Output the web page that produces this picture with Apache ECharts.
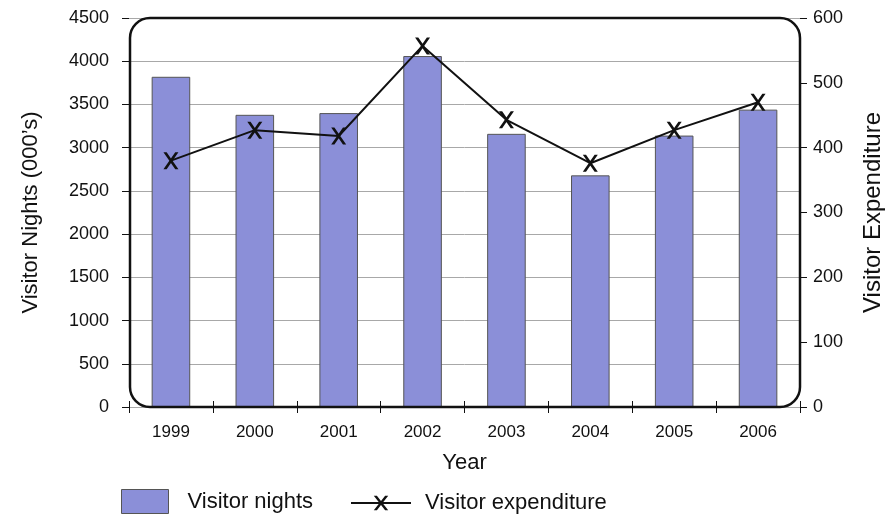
<!DOCTYPE html>
<html><head><meta charset="utf-8">
<script src="https://cdn.jsdelivr.net/npm/echarts@6/dist/echarts.min.js"></script>
<style>html,body{margin:0;padding:0;background:#fff}#c{width:887px;height:516px}</style>
</head><body><div id="c"></div>
<script>
const years = ['1999','2000','2001','2002','2003','2004','2005','2006'];
const visitorNights = [3820, 3380, 3400, 4060, 3160, 2680, 3140, 3440];
const visitorExpenditure = [380, 427, 418, 557, 443, 376, 427, 470];
const leftTicks = {min: 0, max: 4500, interval: 500};
const rightTicks = {min: 0, max: 600, interval: 100};

const G = {left: 129, right: 87, top: 18, bottom: 109};
const W = 887, H = 516;
const font = 'Liberation Sans, Arial, Helvetica, sans-serif';
const xPath = 'path://M0,0 L3,0 L14,16 L11,16 Z M11,0 L14,0 L3,16 L0,16 Z';
const plain = v => String(v);

const chart = echarts.init(document.getElementById('c'), null, {renderer: 'canvas'});
chart.setOption({
  animation: false,
  backgroundColor: '#fff',
  textStyle: {fontFamily: font, color: '#111'},
  grid: {left: G.left, right: G.right, top: G.top, bottom: G.bottom, containLabel: false, outerBoundsMode: 'none'},
  graphic: [{
    type: 'rect', z: 100, silent: true,
    shape: {x: G.left + 1, y: G.top, width: W - G.left - G.right - 1, height: H - G.top - G.bottom, r: 20},
    style: {fill: 'none', stroke: '#111', lineWidth: 2.5}
  }],
  legend: [{
    data: [{name: 'Visitor nights', icon: 'rect'}], left: 121, top: 489, padding: 0,
    itemWidth: 47, itemHeight: 24,
    itemStyle: {borderColor: '#555', borderWidth: 1},
    textStyle: {fontSize: 22, fontFamily: font, color: '#111', padding: [0, 0, 0, 14]}
  }, {
    data: ['Visitor expenditure'], left: 350, top: 492, padding: 0, itemWidth: 60, itemHeight: 18,
    textStyle: {fontSize: 22, fontFamily: font, color: '#111', padding: [0, 0, 0, 9]}
  }],
  xAxis: [{
    type: 'category', data: years, position: 'bottom',
    name: 'Year', nameLocation: 'middle', nameGap: 45,
    nameTextStyle: {fontSize: 22, fontFamily: font, color: '#111'},
    axisLine: {show: false},
    axisTick: {show: true, length: 6, lineStyle: {color: '#111', width: 1}},
    axisLabel: {fontSize: 17, fontFamily: font, color: '#111', margin: 17},
    splitLine: {show: false}
  }, {
    type: 'category', data: years, position: 'bottom',
    axisLine: {show: false},
    axisTick: {show: true, inside: true, length: 6, lineStyle: {color: '#111', width: 1}},
    axisLabel: {show: false}, splitLine: {show: false}
  }],
  yAxis: [{
    type: 'value', position: 'left', min: leftTicks.min, max: leftTicks.max, interval: leftTicks.interval,
    name: "Visitor Nights (000\u2019s)", nameLocation: 'middle', nameGap: 87, nameRotate: 90,
    nameTextStyle: {fontSize: 22, fontFamily: font, color: '#111'},
    axisLine: {show: false},
    axisTick: {show: true, length: 7, lineStyle: {color: '#111', width: 1}},
    axisLabel: {fontSize: 18, fontFamily: font, color: '#111', margin: 20, formatter: plain},
    splitLine: {show: true, lineStyle: {color: '#a8a8a8', width: 1}}
  }, {
    type: 'value', position: 'right', min: rightTicks.min, max: rightTicks.max, interval: rightTicks.interval,
    name: 'Visitor Expenditure', nameLocation: 'middle', nameGap: 61, nameRotate: 90,
    nameTextStyle: {fontSize: 24, fontFamily: font, color: '#111'},
    axisLine: {show: false},
    axisTick: {show: true, length: 7, lineStyle: {color: '#111', width: 1}},
    axisLabel: {fontSize: 18, fontFamily: font, color: '#111', margin: 13, formatter: plain},
    splitLine: {show: false}
  }],
  series: [{
    name: 'Visitor nights', type: 'bar', data: visitorNights, xAxisIndex: 0, yAxisIndex: 0,
    barWidth: '46%',
    itemStyle: {color: '#8b8fd8', borderColor: '#555', borderWidth: 1}
  }, {
    name: 'Visitor expenditure', type: 'line', data: visitorExpenditure, xAxisIndex: 0, yAxisIndex: 1,
    symbol: xPath, symbolSize: [15, 17], showSymbol: true, z: 5,
    lineStyle: {color: '#111', width: 2},
    itemStyle: {color: '#111'}
  }]
});
</script></body></html>
